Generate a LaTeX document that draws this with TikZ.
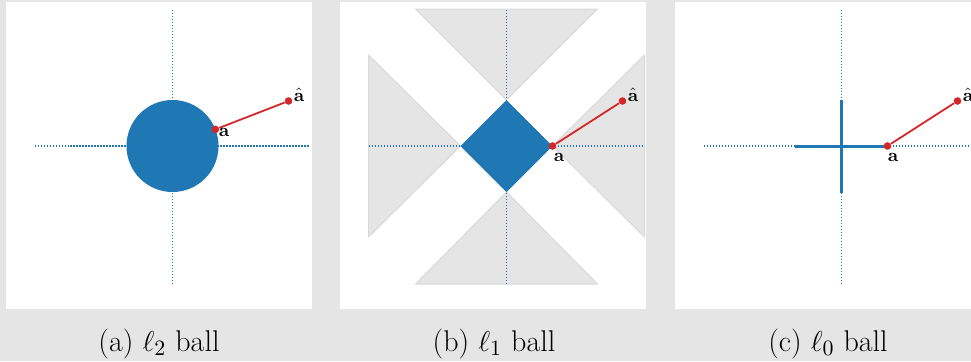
\documentclass[tikz,border=0pt]{standalone}
\usepackage{amsmath}
\usepackage{xcolor}
\usetikzlibrary{positioning}
\definecolor{BallBlue}{HTML}{1F77B4}
\definecolor{PointRed}{HTML}{D62728}
\definecolor{PageGray}{HTML}{E5E5E5}
\definecolor{ConeFill}{HTML}{E5E5E5}
\definecolor{ConeEdge}{HTML}{D9D9D9}
\tikzset{
  figure/.style={x=0.5pt,y=0.5pt},
  panelbox/.style={fill=white,draw=none},
  axisline/.style={BallBlue,line width=0.7pt,dash pattern=on 0.7pt off 0.8pt},
  cone/.style={fill=ConeFill,draw=ConeEdge,line width=0.5pt,line join=round},
  proj/.style={PointRed,line width=0.9pt},
  projdot/.style={circle,fill=PointRed,inner sep=0pt,minimum size=3.8pt},
  ptlabel/.style={font=\fontsize{9.5}{11}\selectfont,inner sep=0pt,anchor=base west},
  subcap/.style={font=\fontsize{15}{18}\selectfont,inner sep=0pt,anchor=base},
}

\begin{document}
\begin{tikzpicture}[figure]
  \useasboundingbox (0,0) rectangle (971,361);
  \fill[PageGray] (0,0) rectangle (971,361);

  % (a) l2 ball
  \begin{scope}[shift={(172.5,215)}]
    \fill[panelbox] (-166.5,-163) rectangle (139.5,144);
    \draw[axisline] (-138,0) -- (136,0);
    \draw[axisline] (0,-138) -- (0,136);
    \fill[BallBlue] (0,0) circle[radius=46];
    \node[projdot] (a1) at (42.9,16.6) {};
    \node[projdot] (ahat1) at (116,45) {};
    \draw[proj] (a1) -- (ahat1);
    \node[ptlabel,xshift=1.5pt,yshift=-3.6pt] (a1lbl) at (a1.center) {$\mathbf{a}$};
    \node[ptlabel,xshift=2.5pt] (ahat1lbl) at (ahat1.center) {$\hat{\mathbf{a}}$};
    \node[subcap] (cap1) at (-13.5,-205) {(a) $\ell_2$ ball};
  \end{scope}

  % (b) l1 ball
  \begin{scope}[shift={(506.5,215)}]
    \fill[panelbox] (-166.5,-163) rectangle (139.5,144);
    \filldraw[cone] (0,46) -- (-91,137) -- (91,137) -- cycle;
    \filldraw[cone] (0,-46) -- (-91,-138) -- (91,-138) -- cycle;
    \filldraw[cone] (-46,0) -- (-138,91) -- (-138,-91) -- cycle;
    \filldraw[cone] (46,0) -- (138,91) -- (138,-91) -- cycle;
    \draw[axisline] (-138,0) -- (136,0);
    \draw[axisline] (0,-138) -- (0,136);
    \fill[BallBlue] (46,0) -- (0,46) -- (-46,0) -- (0,-46) -- cycle;
    \node[projdot] (a2) at (46,0) {};
    \node[projdot] (ahat2) at (116,45) {};
    \draw[proj] (a2) -- (ahat2);
    \node[ptlabel,xshift=0.5pt,yshift=-7.6pt] (a2lbl) at (a2.center) {$\mathbf{a}$};
    \node[ptlabel,xshift=2.5pt] (ahat2lbl) at (ahat2.center) {$\hat{\mathbf{a}}$};
    \node[subcap] (cap2) at (-12.5,-205) {(b) $\ell_1$ ball};
  \end{scope}

  % (c) l0 ball
  \begin{scope}[shift={(841.5,215)}]
    \fill[panelbox] (-166.5,-163) rectangle (139.5,144);
    \draw[axisline] (-138,0) -- (136,0);
    \draw[axisline] (0,-138) -- (0,136);
    \draw[BallBlue,line width=1.5pt] (-46.5,0) -- (46.5,0);
    \draw[BallBlue,line width=1.5pt] (0,-46.5) -- (0,46.5);
    \node[projdot] (a3) at (46,0) {};
    \node[projdot] (ahat3) at (116,45) {};
    \draw[proj] (a3) -- (ahat3);
    \node[ptlabel,xshift=0pt,yshift=-7.6pt] (a3lbl) at (a3.center) {$\mathbf{a}$};
    \node[ptlabel,xshift=2.5pt] (ahat3lbl) at (ahat3.center) {$\hat{\mathbf{a}}$};
    \node[subcap] (cap3) at (-13.5,-205) {(c) $\ell_0$ ball};
  \end{scope}
\end{tikzpicture}
\end{document}
